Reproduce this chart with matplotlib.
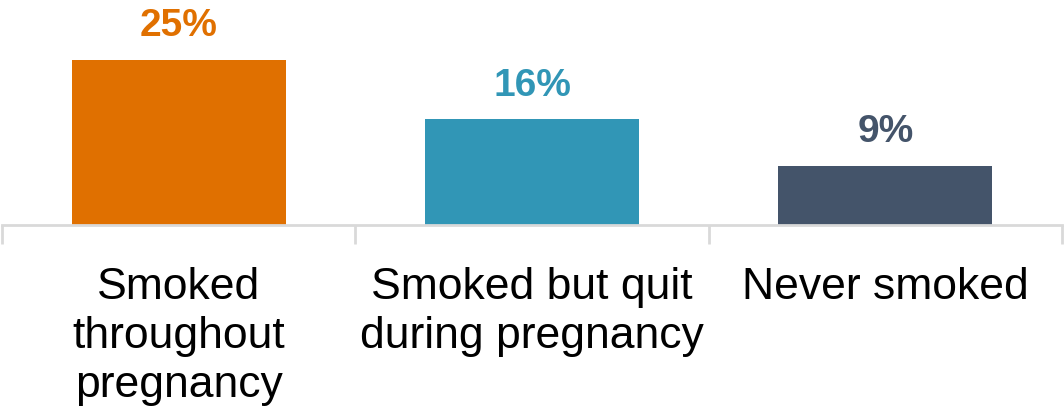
import numpy as np
import matplotlib.pyplot as plt

categories = ['Smoked\nthroughout\npregnancy', 'Smoked but quit\nduring pregnancy', 'Never smoked']
values = [25, 16, 9]
colors = ['#E07000', '#3196B6', '#44546A']

fig = plt.figure(figsize=(10.64, 4.19), dpi=100)
# axes spans from the top of the figure down to the baseline
ax = fig.add_axes([2 / 1064, (419 - 225) / 419, 1060 / 1064, 225 / 419])

x = np.arange(len(values))
ax.bar(x, values, width=0.606, color=colors)

ax.set_xlim(-0.5, len(values) - 0.5)
ax.set_ylim(0, 225 / 6.6)

for xi, v, c in zip(x, values, colors):
    ax.text(xi, v + 2.4, f'{v}%', ha='center', va='bottom', color=c,
            fontsize=28, fontweight='bold', family='Liberation Sans')

for s in ['top', 'right', 'left']:
    ax.spines[s].set_visible(False)
ax.spines['bottom'].set_color('#D9D9D9')
ax.spines['bottom'].set_linewidth(2)
ax.set_yticks([])

# tick marks at the category boundaries
ax.set_xticks(np.arange(-0.5, len(values)), minor=False)
ax.set_xticklabels([])
ax.tick_params(axis='x', length=14, width=2, color='#D9D9D9', direction='out')
ax.set_xticks(x, minor=True)
ax.set_xticklabels(categories, minor=True, fontsize=32, family='Liberation Sans',
                   linespacing=1.26)
ax.tick_params(axis='x', which='minor', length=0, pad=30)

fig.savefig('out.png', dpi=100)
